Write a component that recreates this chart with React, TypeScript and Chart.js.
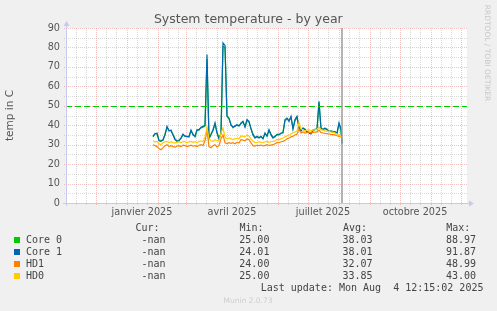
import React, { useEffect, useRef } from 'react';
import { Chart, registerables } from 'chart.js';

Chart.register(...registerables);

// ---- data (x = days since 1 Jan 2025) ----
const days = [
  26, 28, 30, 32, 34, 36, 38, 40, 42, 44,
  46, 48, 50, 52, 54, 56, 58, 60, 62, 64,
  66, 68, 70, 72, 74, 76, 78, 80, 82, 84,
  86, 88, 90, 92, 94, 96, 98, 100, 102, 104,
  106, 108, 110, 112, 114, 116, 118, 120, 122, 124,
  126, 128, 130, 132, 134, 136, 138, 140, 142, 144,
  146, 148, 150, 152, 154, 156, 158, 160, 162, 164,
  166, 168, 170, 172, 174, 176, 178, 180, 182, 184,
  186, 188, 190, 192, 194, 196, 198, 200, 202, 204,
  206, 208, 210, 212, 214, 215,
];

const core0 = [
  34.0, 35.8, 35.5, 32.4, 32.2, 32.2, 35.4, 38.8, 37.4, 37.0,
  35.4, 33.0, 32.0, 32.4, 33.2, 35.0, 34.6, 34.0, 34.4, 37.0,
  35.5, 34.0, 37.2, 37.9, 38.6, 39.0, 39.6, 74.0, 33.5, 35.5,
  37.2, 40.6, 36.4, 33.4, 35.6, 80.5, 80.0, 45.0, 43.2, 40.4,
  38.7, 39.8, 39.9, 39.9, 40.8, 41.6, 39.4, 42.5, 41.6, 38.4,
  35.4, 33.8, 34.0, 33.8, 34.0, 33.4, 35.6, 34.6, 37.2, 35.4,
  33.8, 34.0, 35.4, 35.3, 35.7, 36.4, 42.3, 43.2, 42.4, 44.0,
  38.4, 42.4, 44.0, 38.9, 37.4, 38.2, 38.0, 36.4, 36.3, 35.8,
  37.1, 38.0, 37.7, 51.5, 38.2, 38.0, 38.2, 38.0, 36.7, 37.1,
  36.5, 36.8, 35.7, 40.6, 37.5, 30.8,
];

const core1 = [
  34.3, 35.5, 36.0, 32.0, 31.7, 32.6, 35.0, 39.4, 37.0, 37.5,
  35.0, 32.6, 31.7, 32.0, 33.5, 35.5, 34.3, 34.3, 34.0, 37.5,
  35.1, 34.3, 37.7, 37.5, 39.0, 39.4, 40.0, 76.3, 33.0, 35.1,
  37.7, 41.2, 36.0, 33.0, 36.0, 82.3, 81.0, 44.5, 43.7, 40.0,
  39.1, 39.4, 40.3, 39.5, 41.2, 42.0, 39.0, 42.9, 42.0, 38.0,
  35.0, 33.4, 34.3, 33.4, 34.3, 33.0, 36.0, 34.3, 37.7, 35.0,
  33.4, 34.3, 35.1, 35.0, 36.0, 36.0, 42.9, 43.7, 42.0, 44.6,
  38.0, 42.9, 44.6, 38.5, 37.0, 38.6, 37.7, 36.8, 36.0, 35.5,
  37.5, 37.7, 38.0, 52.3, 38.6, 37.7, 38.6, 37.7, 37.0, 36.8,
  36.8, 36.5, 36.0, 41.2, 38.0, 30.5,
];

const hd1 = [
  30.0, 29.5, 29.0, 28.0, 27.4, 28.5, 29.5, 30.0, 29.0, 29.5,
  29.0, 28.7, 29.2, 29.5, 29.0, 29.8, 29.5, 29.0, 29.4, 29.7,
  29.2, 29.5, 29.0, 29.7, 30.0, 29.5, 32.0, 37.5, 29.0, 28.4,
  29.5, 30.0, 28.8, 29.5, 33.0, 35.0, 31.0, 30.5, 31.0, 30.7,
  31.0, 30.5, 31.2, 31.0, 32.6, 32.3, 32.0, 33.0, 32.6, 31.0,
  29.5, 29.3, 29.7, 29.5, 29.8, 29.4, 29.5, 30.0, 29.6, 29.8,
  30.0, 30.5, 31.0, 31.0, 31.5, 31.7, 32.3, 33.0, 33.4, 34.0,
  34.3, 35.0, 35.5, 38.0, 36.0, 36.5, 36.0, 36.2, 36.5, 36.0,
  36.3, 36.5, 36.5, 37.5, 36.3, 36.0, 35.8, 35.7, 35.5, 35.3,
  35.2, 35.0, 34.6, 34.3, 34.0, 33.5,
];

const hd0 = [
  32.0, 31.5, 31.7, 30.5, 30.0, 31.0, 31.5, 31.7, 31.0, 31.5,
  31.0, 30.9, 31.2, 31.5, 31.0, 31.7, 31.5, 31.0, 31.5, 31.7,
  31.2, 31.5, 31.0, 31.7, 32.0, 31.5, 34.0, 39.0, 33.0, 32.0,
  31.7, 32.6, 32.0, 31.7, 36.0, 38.6, 34.0, 33.0, 33.4, 33.0,
  32.6, 33.0, 33.4, 33.0, 34.5, 34.3, 34.0, 35.0, 34.5, 33.0,
  31.7, 31.2, 31.0, 31.5, 31.2, 31.0, 31.5, 31.7, 31.2, 31.5,
  31.7, 32.0, 32.6, 32.6, 33.0, 33.4, 34.0, 34.5, 35.0, 35.5,
  36.0, 36.5, 37.0, 41.5, 38.0, 37.7, 37.0, 37.5, 37.7, 37.0,
  37.5, 37.7, 38.0, 39.0, 37.7, 37.5, 37.0, 37.0, 36.8, 36.5,
  36.5, 36.0, 35.5, 35.0, 34.0, 33.0,
];

// ---- axes ----
const xMin = -61; // 1 Nov 2024
const xMax = 340;
const yMin = 0;
const yMax = 90;
const yMajorStep = 10;
const yMinorStep = 5;
const monthStartDays = [-61, -31, 0, 31, 59, 90, 120, 151, 181, 212, 243, 273, 304, 334];
const minorDays = [-51, -41, -21, -11, 10, 20, 41, 51, 69, 79, 100, 110, 130, 140, 161, 171, 191, 201, 222, 232, 253, 263, 283, 293, 314, 324];
const labelDays = [15, 105, 196, 288];
const labelTexts = ['janvier 2025', 'avril 2025', 'juillet 2025', 'octobre 2025'];
const warningLevel = 50;
const nowDay = 215;

// ---- legend ----
const seriesNames = ['Core 0', 'Core 1', 'HD1', 'HD0'];
const seriesColors = ['#00CC00', '#0066B3', '#FF8000', '#FFCC00'];
const curVals = ['-nan', '-nan', '-nan', '-nan'];
const minVals = ['25.00', '24.01', '24.00', '25.00'];
const avgVals = ['38.03', '38.01', '32.07', '33.85'];
const maxVals = ['88.97', '91.87', '48.99', '43.00'];
const seriesData = [core0, core1, hd1, hd0];
const drawOrder = [4, 3, 2, 1];

const W = 497;
const H = 311;

const gridPlugin = {
  id: 'muninGrid',
  beforeDatasetsDraw(chart: any) {
    const { ctx, chartArea: a, scales } = chart;
    const x = scales.x;
    const y = scales.y;
    ctx.save();
    ctx.fillStyle = '#ffffff';
    ctx.fillRect(a.left, a.top, a.right - a.left, a.bottom - a.top);
    ctx.lineWidth = 1;
    ctx.setLineDash([1, 1]);
    // horizontal minor
    ctx.strokeStyle = 'rgba(165,165,165,0.42)';
    for (let v = yMin + yMinorStep; v < yMax; v += yMajorStep) {
      const py = Math.round(y.getPixelForValue(v)) + 0.5;
      ctx.beginPath();
      ctx.moveTo(a.left - 2, py);
      ctx.lineTo(a.right + 1, py);
      ctx.stroke();
    }
    // vertical minor
    for (const d of minorDays) {
      const px = Math.round(x.getPixelForValue(d)) + 0.5;
      if (px < a.left || px > a.right) continue;
      ctx.beginPath();
      ctx.moveTo(px, a.top);
      ctx.lineTo(px, a.bottom + 2);
      ctx.stroke();
    }
    // major
    ctx.strokeStyle = 'rgba(230,110,110,0.42)';
    for (let v = yMin + yMajorStep; v <= yMax; v += yMajorStep) {
      const py = Math.round(y.getPixelForValue(v)) + 0.5;
      ctx.beginPath();
      ctx.moveTo(a.left - 2, py);
      ctx.lineTo(a.right + 1, py);
      ctx.stroke();
    }
    for (const d of monthStartDays) {
      const px = Math.round(x.getPixelForValue(d)) + 0.5;
      if (px < a.left + 1 || px > a.right) continue;
      ctx.beginPath();
      ctx.moveTo(px, a.top);
      ctx.lineTo(px, a.bottom + 2);
      ctx.stroke();
    }
    ctx.restore();
  },
  afterDatasetsDraw(chart: any) {
    const { ctx, chartArea: a, scales } = chart;
    const x = scales.x;
    const y = scales.y;
    ctx.save();
    // warning line
    const wy = Math.round(y.getPixelForValue(warningLevel)) + 0.5;
    ctx.strokeStyle = '#00CC00';
    ctx.lineWidth = 1.2;
    ctx.setLineDash([6, 3]);
    ctx.beginPath();
    ctx.moveTo(a.left, wy);
    ctx.lineTo(a.right, wy);
    ctx.stroke();
    ctx.setLineDash([]);
    // now line
    const nx = Math.round(x.getPixelForValue(nowDay));
    ctx.strokeStyle = '#9a9a9a';
    ctx.lineWidth = 1.5;
    ctx.beginPath();
    ctx.moveTo(nx, a.top);
    ctx.lineTo(nx, a.bottom);
    ctx.stroke();
    // axes
    const ax = 'rgb(200,200,240)';
    ctx.strokeStyle = ax;
    ctx.fillStyle = ax;
    ctx.lineWidth = 1;
    const lx = a.left + 0.5;
    const by = Math.round(a.bottom) + 0.5;
    ctx.beginPath();
    ctx.moveTo(lx, a.bottom + 3);
    ctx.lineTo(lx, a.top - 3);
    ctx.moveTo(a.left - 3, by);
    ctx.lineTo(a.right + 3, by);
    ctx.stroke();
    ctx.beginPath();
    ctx.moveTo(lx - 3, a.top - 2);
    ctx.lineTo(lx + 3, a.top - 2);
    ctx.lineTo(lx, a.top - 7);
    ctx.closePath();
    ctx.fill();
    ctx.beginPath();
    ctx.moveTo(a.right + 2, by - 3);
    ctx.lineTo(a.right + 2, by + 3);
    ctx.lineTo(a.right + 7, by);
    ctx.closePath();
    ctx.fill();
    ctx.restore();
  },
};

const sans = 'DejaVu Sans, sans-serif';
const mono = 'DejaVu Sans Mono, monospace';

function Txt(props: { x: number; y: number; size: number; font?: string; color?: string; children: any; center?: boolean }) {
  const { x, y, size, font, color, children, center } = props;
  return (
    <div
      style={{
        position: 'absolute',
        left: x,
        top: y,
        fontFamily: font || mono,
        fontSize: size,
        lineHeight: `${size}px`,
        color: color || '#444',
        whiteSpace: 'pre',
        transform: center ? 'translateX(-50%)' : undefined,
      }}
    >
      {children}
    </div>
  );
}

export default function App() {
  const ref = useRef<HTMLCanvasElement | null>(null);

  useEffect(() => {
    if (!ref.current) return;
    const datasets = seriesNames.map((name, i) => ({
      label: name,
      data: days.map((d, j) => ({ x: d, y: seriesData[i][j] })),
      borderColor: seriesColors[i],
      backgroundColor: seriesColors[i],
      borderWidth: 1.2,
      pointRadius: 0,
      tension: 0,
      fill: false,
      order: drawOrder[i],
    }));
    const chart = new Chart(ref.current, {
      type: 'line',
      data: { datasets },
      options: {
        animation: false,
        responsive: false,
        events: [],
        layout: { padding: { left: 0, right: 30, top: 28, bottom: 0 } },
        plugins: { legend: { display: false }, tooltip: { enabled: false }, title: { display: false } },
        scales: {
          x: {
            type: 'linear',
            min: xMin,
            max: xMax,
            grid: { display: false, drawTicks: false },
            border: { display: false },
            afterBuildTicks: (s: any) => {
              s.ticks = labelDays.map((v) => ({ value: v }));
            },
            ticks: {
              autoSkip: false,
              maxRotation: 0,
              padding: 4,
              color: '#555',
              font: { family: sans, size: 9.7 },
              callback: (v: any) => {
                const k = labelDays.indexOf(Number(v));
                return k >= 0 ? labelTexts[k] : '';
              },
            },
            afterFit: (s: any) => {
              s.height = 108;
            },
          },
          y: {
            type: 'linear',
            min: yMin,
            max: yMax,
            grid: { display: false, drawTicks: false },
            border: { display: false },
            ticks: { stepSize: yMajorStep, padding: 6, color: '#555', font: { family: sans, size: 9.7 } },
            afterFit: (s: any) => {
              s.width = 66;
            },
          },
        },
      },
      plugins: [gridPlugin],
    } as any);
    return () => chart.destroy();
  }, []);

  const rowTops = [235.2, 247.2, 258.9, 270.9];

  return (
    <div style={{ position: 'absolute', left: 0, top: 0, width: W, height: H, background: '#f0f0f0', overflow: 'hidden' }}>
      <canvas ref={ref} width={W} height={H} style={{ position: 'absolute', left: 0, top: 0, width: W, height: H, display: 'block' }} />
      <Txt x={248.3} y={12.7} size={12.5} font={sans} color="#555" center>
        System temperature - by year
      </Txt>
      <div
        style={{
          position: 'absolute',
          left: 4,
          top: 88,
          width: 12,
          height: 54,
          display: 'flex',
          alignItems: 'center',
          justifyContent: 'center',
        }}
      >
        <div
          style={{
            fontFamily: sans,
            fontSize: 10.5,
            lineHeight: '11px',
            color: '#555',
            whiteSpace: 'pre',
            transform: 'rotate(-90deg)',
          }}
        >
          temp in C
        </div>
      </div>
      <div
        style={{
          position: 'absolute',
          left: 482,
          top: 4,
          width: 10,
          height: 98,
          display: 'flex',
          alignItems: 'center',
          justifyContent: 'center',
        }}
      >
        <div
          style={{
            fontFamily: sans,
            fontSize: 7.5,
            lineHeight: '8px',
            color: '#c8c8c8',
            whiteSpace: 'pre',
            transform: 'rotate(90deg)',
          }}
        >
          RRDTOOL / TOBI OETIKER
        </div>
      </div>
      <Txt x={135.4} y={222.5} size={10}>Cur:</Txt>
      <Txt x={239.5} y={222.5} size={10}>Min:</Txt>
      <Txt x={343.0} y={222.5} size={10}>Avg:</Txt>
      <Txt x={446.2} y={222.5} size={10}>Max:</Txt>
      {seriesNames.map((n, i) => (
        <React.Fragment key={n}>
          <div style={{ position: 'absolute', left: 14, top: rowTops[i] + 1.8, width: 6, height: 6, background: seriesColors[i] }} />
          <Txt x={26} y={rowTops[i]} size={10}>{n}</Txt>
          <Txt x={141.5} y={rowTops[i]} size={10}>{curVals[i]}</Txt>
          <Txt x={239.3} y={rowTops[i]} size={10}>{minVals[i]}</Txt>
          <Txt x={342.5} y={rowTops[i]} size={10}>{avgVals[i]}</Txt>
          <Txt x={446.0} y={rowTops[i]} size={10}>{maxVals[i]}</Txt>
        </React.Fragment>
      ))}
      <Txt x={260.7} y={282.9} size={10}>Last update: Mon Aug  4 12:15:02 2025</Txt>
      <Txt x={248} y={296.7} size={7.5} font={sans} color="#cdcdcd" center>
        Munin 2.0.73
      </Txt>
    </div>
  );
}
